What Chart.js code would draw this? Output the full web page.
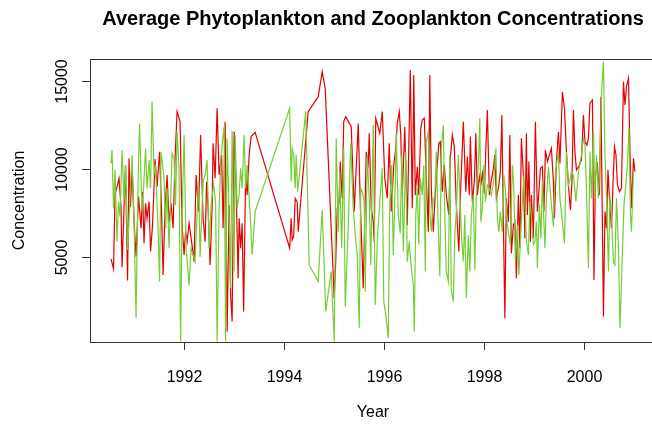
<!DOCTYPE html>
<html>
<head>
<meta charset="utf-8">
<title>Average Phytoplankton and Zooplankton Concentrations</title>
<script src="https://cdn.jsdelivr.net/npm/chart.js@4"></script>
<style>
  html, body { margin: 0; padding: 0; background: #fff; overflow: hidden; }
  canvas { display: block; }
</style>
</head>
<body>
<canvas id="plankton" width="680" height="426"></canvas>
<script>
const chartTitle = 'Average Phytoplankton and Zooplankton Concentrations';
const xTitle = 'Year';
const yTitle = 'Concentration';
const yearTicks = [1992, 1994, 1996, 1998, 2000];
const concTicks = [5000, 10000, 15000];

// phytoplankton (red)
const phytoYears = [1990.55,1990.60,1990.63,1990.71,1990.75,1990.77,1990.84,1990.88,1990.91,1990.94,1990.97,1991.01,1991.05,1991.10,1991.15,1991.18,1991.21,1991.24,1991.27,1991.31,1991.34,1991.38,1991.43,1991.47,1991.52,1991.56,1991.59,
  1991.63,1991.67,1991.71,1991.75,1991.79,1991.83,1991.87,1991.93,1991.97,1992.01,1992.04,1992.07,1992.11,1992.16,1992.21,1992.25,1992.30,1992.34,1992.39,1992.43,1992.46,1992.49,1992.53,1992.57,1992.59,1992.63,1992.67,1992.71,1992.76,1992.79,
  1992.83,1992.87,1992.91,1992.94,1992.97,1993.01,1993.05,1993.09,1993.11,1993.14,1993.17,1993.20,1993.24,1993.27,1993.31,1993.35,1993.43,
  1994.12,1994.15,1994.17,1994.20,1994.23,1994.27,1994.29,1994.49,1994.69,1994.77,1994.83,1995.01,1995.04,1995.07,1995.11,1995.13,1995.17,1995.20,
  1995.24,1995.35,1995.41,1995.49,1995.53,1995.59,1995.65,1995.69,1995.71,1995.75,1995.79,1995.81,1995.84,1995.92,1995.97,1996.02,1996.07,1996.11,1996.15,1996.20,1996.24,1996.27,1996.31,1996.34,1996.37,
  1996.42,1996.47,1996.53,1996.57,1996.60,1996.63,1996.67,1996.70,1996.74,1996.77,1996.81,1996.85,1996.89,1996.92,1996.95,1996.99,1997.02,1997.06,1997.10,1997.13,1997.17,1997.21,1997.25,1997.30,1997.33,1997.37,1997.41,1997.45,1997.50,1997.54,1997.59,
  1997.64,1997.67,1997.71,1997.73,1997.77,1997.81,1997.84,1997.87,1997.91,1997.94,1997.97,1998.01,1998.04,1998.07,1998.11,1998.15,1998.19,1998.22,1998.25,1998.30,1998.33,1998.36,1998.39,1998.42,1998.45,1998.49,1998.52,1998.55,1998.59,1998.62,1998.65,1998.69,1998.72,1998.75,1998.79,
  1998.82,1998.85,1998.87,1998.90,1998.93,1998.95,1998.99,1999.03,1999.07,1999.10,1999.13,1999.17,1999.20,1999.23,1999.27,1999.32,1999.35,1999.39,1999.41,1999.45,1999.49,1999.52,1999.57,1999.61,1999.65,1999.69,1999.73,1999.76,1999.79,1999.82,1999.85,1999.91,1999.95,1999.99,
  2000.02,2000.06,2000.09,2000.12,2000.17,2000.20,2000.23,2000.27,2000.31,2000.34,2000.39,2000.42,2000.45,2000.48,2000.51,2000.55,2000.58,2000.61,2000.64,2000.67,2000.71,2000.75,2000.79,2000.82,2000.85,2000.89,2000.92,2000.95,2000.99,2001.02];
const phytoValues = [4890,4320,8530,9470,7860,4420,10230,3660,10610,7860,10130,7010,5020,8430,6630,8710,5780,8050,7200,8150,5310,6820,10570,9000,10980,7580,3980,
  7770,9660,7010,8050,6630,10610,13260,12690,6820,5120,6440,5870,6920,5870,4740,9660,7580,11930,7200,5870,9280,7770,4550,7860,11460,9470,13450,9660,10800,6630,
  12690,760,7960,2850,1330,12120,8900,3790,7200,5500,6920,1900,9660,8520,10800,11840,12080,
  5500,7200,5970,6160,8340,8150,6440,13260,14110,15530,14580,2660,4740,7770,8150,10420,8340,12690,
  12970,12400,7580,12590,8150,3220,10980,10320,12030,7770,7010,5870,12880,12030,13260,9470,8340,11460,7580,10230,11170,12590,13260,11930,8520,
  12400,6820,15620,7770,15340,8520,10130,8520,12310,12780,12880,9470,6440,15340,8900,6440,8150,9850,11460,11550,8710,10230,8520,7390,10610,11930,11270,7960,5310,9090,12690,
  8710,10700,8520,11840,8150,9280,12030,8520,9570,9090,9750,8620,11170,13350,8520,9370,10040,10800,8340,9090,9850,13070,7010,1520,8340,7010,11930,5210,6820,7010,3790,8520,5500,11740,9660,
  6060,12030,7390,10420,5870,8520,6060,12690,7580,8710,10040,10130,7580,11080,10420,10890,11170,9280,7200,10420,12120,10320,14390,13450,10980,9090,7670,9280,13350,10980,9940,10230,10510,13070,
  11550,11360,11740,13730,13920,3700,9660,10230,8520,14110,1620,7580,6630,9940,8340,6630,9090,11270,10800,9090,8710,8900,14960,13640,14680,15150,10990,7770,10610,9850];

// zooplankton (green)
const zooYears = [1990.55,1990.57,1990.60,1990.63,1990.67,1990.70,1990.73,1990.77,1990.81,1990.84,1990.88,1990.92,1990.97,1991.01,1991.05,1991.09,1991.12,1991.17,1991.20,1991.24,1991.27,1991.31,1991.34,1991.37,1991.41,1991.44,1991.49,1991.52,1991.55,1991.61,
  1991.64,1991.67,1991.71,1991.74,1991.77,1991.81,1991.84,1991.87,1991.91,1991.94,1991.97,1992.01,1992.05,1992.11,1992.15,1992.19,1992.23,1992.27,1992.30,1992.33,1992.39,1992.43,1992.47,1992.51,1992.55,1992.60,1992.64,1992.67,1992.71,1992.75,1992.81,
  1992.84,1992.87,1992.91,1992.94,1992.97,1993.01,1993.03,1993.07,1993.11,1993.14,1993.17,1993.21,1993.24,1993.27,1993.32,1993.37,1993.43,
  1994.12,1994.15,1994.17,1994.20,1994.23,1994.25,1994.28,1994.44,1994.51,1994.69,1994.77,1994.84,1994.95,1995.01,1995.05,1995.09,1995.12,1995.16,1995.20,
  1995.23,1995.29,1995.34,1995.39,1995.43,1995.47,1995.51,1995.54,1995.57,1995.61,1995.63,1995.67,1995.71,1995.74,1995.79,1995.83,1995.87,1995.92,1995.97,1996.00,1996.04,1996.09,1996.12,1996.16,1996.19,1996.23,1996.25,1996.29,1996.33,1996.36,1996.39,
  1996.44,1996.47,1996.51,1996.55,1996.59,1996.61,1996.64,1996.67,1996.70,1996.73,1996.77,1996.80,1996.83,1996.85,1996.89,1996.92,1996.95,1996.99,1997.02,1997.05,1997.09,1997.12,1997.15,1997.19,1997.22,1997.25,1997.29,1997.32,1997.35,1997.39,1997.42,1997.45,1997.49,1997.53,1997.56,1997.59,
  1997.62,1997.65,1997.69,1997.72,1997.75,1997.79,1997.82,1997.85,1997.89,1997.92,1997.94,1997.97,1998.00,1998.03,1998.07,1998.11,1998.15,1998.19,1998.22,1998.24,1998.27,1998.30,1998.33,1998.37,1998.40,1998.43,1998.47,1998.50,1998.53,1998.57,1998.60,1998.63,1998.67,1998.70,1998.73,1998.77,1998.80,
  1998.85,1998.89,1998.92,1998.95,1998.99,1999.02,1999.05,1999.07,1999.11,1999.14,1999.17,1999.22,1999.25,1999.29,1999.34,1999.39,1999.42,1999.45,1999.49,1999.52,1999.57,1999.61,1999.65,1999.69,1999.72,1999.75,1999.79,1999.84,1999.89,1999.95,1999.99,
  2000.02,2000.05,2000.09,2000.12,2000.15,2000.19,2000.22,2000.25,2000.29,2000.32,2000.35,2000.39,2000.42,2000.45,2000.49,2000.52,2000.55,2000.59,2000.62,2000.65,2000.69,2000.72,2000.77,2000.80,2000.83,2000.87,2000.90,2000.93,2000.95,2000.99];
const zooValues = [10320,11080,7770,9940,5870,8150,7290,11080,8150,10230,5400,7770,10800,7010,1520,9280,12590,7580,8900,11170,8900,10510,8900,13830,9660,10230,6630,3600,10980,9470,
  6630,8900,5500,7960,10890,10610,7960,12120,10040,200,7390,11930,5500,3410,5500,5120,4740,7580,9280,5020,9280,9660,10510,5500,7960,9090,8150,200,7770,10800,12400,
  200,11740,7390,3220,12160,4170,11930,7770,8520,10040,8900,11930,8900,10230,7960,5120,7580,
  13450,9280,11170,10800,8900,10800,8710,13260,4550,3600,7670,1900,4170,200,11740,6440,9850,5500,11170,
  2180,6630,11460,7770,6250,5120,950,8900,8710,8150,3030,10800,8340,4550,12500,2280,5870,8150,10040,2470,1710,380,7960,10230,5120,9280,12030,7390,6350,10800,5310,
  10980,4740,5870,4360,3410,760,7390,8900,5690,9470,8520,10230,4170,11550,12120,7580,6440,8340,8340,10980,6440,3890,11170,12500,7390,4170,3600,10800,3130,2470,6250,7580,10800,7770,5870,4740,
  7390,2660,6250,4170,7390,8520,4260,8520,10230,12880,7010,7770,10230,8150,9090,8900,8520,9190,10230,11170,7200,6440,7580,6440,9660,8900,6820,6250,5690,10230,8900,4740,6820,3980,5870,8150,9660,
  5870,5120,8150,7390,5690,5870,7010,4360,7960,6060,9280,5500,8340,10130,8340,6730,9280,10230,10980,8340,7010,5780,10980,9090,9370,9850,9660,8150,9850,10800,11740,
  11360,8900,4360,10980,8340,12120,8340,10800,8340,10420,14200,16100,10800,8520,4170,8520,7390,4740,4550,8340,5500,950,5310,7960,8900,10230,12310,7390,6440,9850];

const toPoints = (xs, ys) => xs.map((x, i) => ({ x: x, y: ys[i] }));
const baseFont = '"Liberation Sans", Arial, Helvetica, sans-serif';

// R-style box, outward ticks, rotated y labels and titles
const baseAxes = {
  id: 'baseAxes',
  afterDraw(chart) {
    const { ctx, chartArea: area, scales } = chart;
    const xs = scales.x, ys = scales.y;
    const midX = (area.left + area.right) / 2;
    ctx.save();
    ctx.strokeStyle = '#333';
    ctx.lineWidth = 1;
    ctx.strokeRect(Math.round(area.left) + 0.5, Math.round(area.top) + 0.5,
      Math.round(area.right - area.left), Math.round(area.bottom - area.top));
    ctx.fillStyle = '#000';
    ctx.textAlign = 'center';
    ctx.textBaseline = 'middle';
    ctx.font = '16px ' + baseFont;
    yearTicks.forEach(t => {
      const px = Math.round(xs.getPixelForValue(t)) + 0.5;
      ctx.beginPath();
      ctx.moveTo(px, area.bottom);
      ctx.lineTo(px, area.bottom + 8);
      ctx.stroke();
      ctx.fillText(String(t), px, 378);
    });
    concTicks.forEach(t => {
      const py = Math.round(ys.getPixelForValue(t)) + 0.5;
      ctx.beginPath();
      ctx.moveTo(area.left - 8, py);
      ctx.lineTo(area.left, py);
      ctx.stroke();
      ctx.save();
      ctx.translate(63, py);
      ctx.rotate(-Math.PI / 2);
      ctx.fillText(String(t), 0, 0);
      ctx.restore();
    });
    ctx.fillText(xTitle, midX, 413);
    ctx.save();
    ctx.translate(20, (area.top + area.bottom) / 2);
    ctx.rotate(-Math.PI / 2);
    ctx.fillText(yTitle, 0, 0);
    ctx.restore();
    ctx.font = 'bold 20px ' + baseFont;
    ctx.fillText(chartTitle, midX, 19);
    ctx.restore();
  }
};

document.addEventListener('DOMContentLoaded', () => {
  const ctx = document.getElementById('plankton').getContext('2d');
  new Chart(ctx, {
    type: 'line',
    data: {
      datasets: [{
        label: 'Phytoplankton',
        data: toPoints(phytoYears, phytoValues),
        borderColor: '#e60000',
        borderWidth: 1.2,
        order: 2
      }, {
        label: 'Zooplankton',
        data: toPoints(zooYears, zooValues),
        borderColor: '#74cf35',
        borderWidth: 1.2,
        order: 1
      }]
    },
    options: {
      responsive: false,
      animation: false,
      events: [],
      layout: { padding: { left: 90, top: 59, right: 24, bottom: 84 } },
      elements: {
        point: { radius: 0 },
        line: { tension: 0 }
      },
      scales: {
        x: { type: 'linear', min: 1990.13, max: 2001.44, display: false },
        y: { type: 'linear', min: 170, max: 16250, display: false }
      },
      plugins: {
        legend: { display: false },
        tooltip: { enabled: false }
      }
    },
    plugins: [baseAxes]
  });
});
</script>
</body>
</html>
